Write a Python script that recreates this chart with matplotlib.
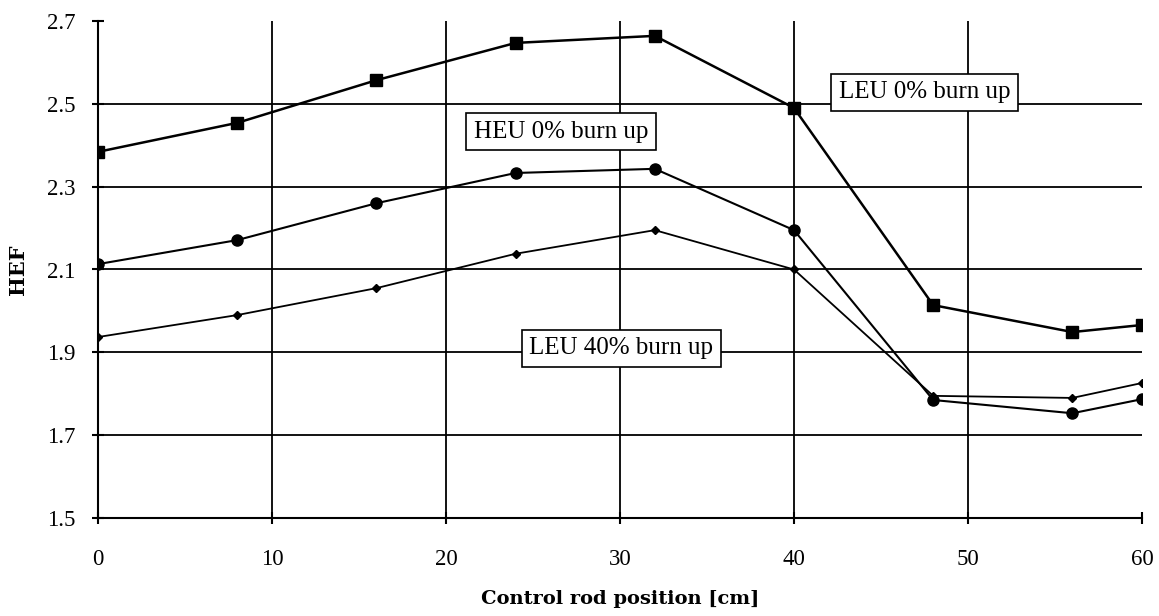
import matplotlib.pyplot as plt

plt.rcParams['font.family'] = ['Liberation Serif', 'DejaVu Serif']

# control rod position [cm]
position = [0, 8, 16, 24, 32, 40, 48, 56, 60]

# HEF values
leu_0 = [2.384, 2.454, 2.557, 2.647, 2.664, 2.490, 2.014, 1.949, 1.966]
heu_0 = [2.113, 2.171, 2.260, 2.333, 2.343, 2.195, 1.785, 1.753, 1.787]
leu_40 = [1.937, 1.990, 2.055, 2.138, 2.195, 2.100, 1.795, 1.790, 1.826]

xticks = [0, 10, 20, 30, 40, 50, 60]
yticks = [1.5, 1.7, 1.9, 2.1, 2.3, 2.5, 2.7]

fig = plt.figure(figsize=(11.59, 6.16), dpi=100)
ax = fig.add_axes([0.0846, 0.159, 0.9007, 0.807])

ax.plot(position, leu_0, color='black', lw=1.8, marker='s', ms=8)
ax.plot(position, heu_0, color='black', lw=1.5, marker='o', ms=8)
ax.plot(position, leu_40, color='black', lw=1.3, marker='D', ms=4.5)

ax.set_xlim(0, 60)
ax.set_ylim(1.5, 2.7)
ax.set_xticks(xticks)
ax.set_yticks(yticks)
ax.set_yticklabels([f"{v:.1f}" for v in yticks])

# inner gridlines only, no frame on top and right
for x in xticks[1:-1]:
    ax.axvline(x, color='black', lw=1.3, zorder=0)
for y in yticks[1:-1]:
    ax.axhline(y, color='black', lw=1.3, zorder=0)

for s in ['top', 'right']:
    ax.spines[s].set_visible(False)
for s in ['left', 'bottom']:
    ax.spines[s].set_linewidth(1.5)
ax.tick_params(direction='inout', length=8, width=1.5, labelsize=16.5)
ax.tick_params(axis='y', pad=12)
ax.tick_params(axis='x', pad=18)

ax.set_xlabel("Control rod position [cm]", fontsize=14, fontweight='bold',
              family='DejaVu Serif', labelpad=15)
ax.set_ylabel("HEF", fontsize=15, fontweight='bold', family='DejaVu Serif', labelpad=14)

box = dict(boxstyle='square,pad=0.3', fc='white', ec='black', lw=1.2)
ax.text(26.6, 2.432, "HEU 0% burn up", fontsize=18, ha='center', va='center', bbox=box)
ax.text(47.5, 2.528, "LEU 0% burn up", fontsize=18, ha='center', va='center', bbox=box)
ax.text(30.06, 1.910, "LEU 40% burn up", fontsize=18, ha='center', va='center', bbox=box)

fig.savefig("out.png", dpi=100)
